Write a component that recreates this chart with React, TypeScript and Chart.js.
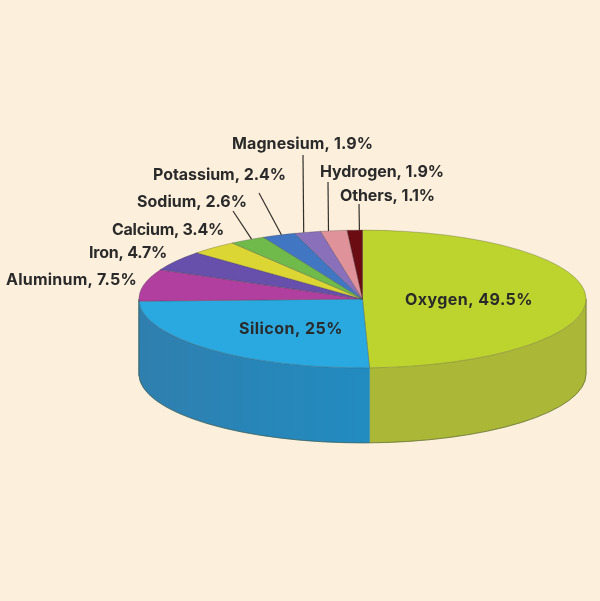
import React, { useEffect, useRef } from "react";
import { Chart, registerables } from "chart.js";

Chart.register(...registerables);

const categories = ["Oxygen", "Silicon", "Aluminum", "Iron", "Calcium", "Sodium", "Potassium", "Magnesium", "Hydrogen", "Others"];
const percentages = [49.5, 25, 7.5, 4.7, 3.4, 2.6, 2.4, 1.9, 1.9, 1.1];
const topColors = ["#bdd32e", "#2aa9e0", "#b03f9f", "#6650ab", "#dcd634", "#6fba4a", "#4176c2", "#8a70bb", "#e0929b", "#6a0c12"];
const sideColorsLeft = ["#aab737", "#2f7fae", "#2f7fae", "#2f7fae", "#2f7fae", "#2f7fae", "#2f7fae", "#2f7fae", "#2f7fae", "#2f7fae"];
const sideColorsRight = ["#aab737", "#228bc0", "#228bc0", "#228bc0", "#228bc0", "#228bc0", "#228bc0", "#228bc0", "#228bc0", "#228bc0"];

// Left edge, vertical middle and overall width of each text label
const labelX = [405, 239, 6, 89, 112, 137, 153, 232, 320, 340];
const labelY = [300, 329, 280, 253, 230, 202, 175, 144, 172, 196];
const labelWidth = [128, 104, 131, 78, 112, 110, 133, 141, 124, 95];
// Leader lines: slice index, where along the slice's rim it lands, and its free end
const leaderSlices = [5, 6, 7, 8, 9];
const leaderFractions = [0.63, 0.58, 0.35, 0.3, 0.8];
const leaderStartX = [233, 259, 303, 328, 359];
const leaderStartY = [211, 193, 155, 182, 204];

const SQUASH = 69 / 224;
const DEPTH = 75;

const pie3d = {
  id: "pie3d",
  beforeDatasetsDraw(chart: any) {
    const ctx = chart.ctx;
    const arcs = chart.getDatasetMeta(0).data;
    const first = arcs[0];
    const r = first.outerRadius;
    ctx.save();
    arcs.forEach((arc: any, i: number) => {
      const a0 = Math.max(arc.startAngle, 0);
      const a1 = Math.min(arc.endAngle, Math.PI);
      if (a1 <= a0) return;
      const rx = arc.outerRadius;
      const ry = rx * SQUASH;
      const fill = ctx.createLinearGradient(first.x - r, 0, first.x, 0);
      fill.addColorStop(0, sideColorsLeft[i]);
      fill.addColorStop(1, sideColorsRight[i]);
      ctx.beginPath();
      ctx.ellipse(arc.x, arc.y, rx, ry, 0, a0, a1);
      ctx.ellipse(arc.x, arc.y + DEPTH, rx, ry, 0, a1, a0, true);
      ctx.closePath();
      ctx.fillStyle = fill;
      ctx.fill();
      ctx.strokeStyle = fill;
      ctx.lineWidth = 0.5;
      ctx.stroke();
    });
    ctx.beginPath();
    ctx.ellipse(first.x, first.y + DEPTH, r, r * SQUASH, 0, 0, Math.PI);
    ctx.moveTo(first.x + r, first.y);
    ctx.lineTo(first.x + r, first.y + DEPTH);
    ctx.moveTo(first.x - r, first.y);
    ctx.lineTo(first.x - r, first.y + DEPTH);
    ctx.strokeStyle = "rgba(70,80,50,0.7)";
    ctx.lineWidth = 0.8;
    ctx.stroke();
    ctx.restore();

    ctx.save();
    ctx.translate(0, first.y);
    ctx.scale(1, SQUASH);
    ctx.translate(0, -first.y);
  },
  afterDatasetsDraw(chart: any) {
    const ctx = chart.ctx;
    ctx.restore();
    const arcs = chart.getDatasetMeta(0).data;

    ctx.save();
    ctx.strokeStyle = "#33302c";
    ctx.lineWidth = 1.2;
    leaderSlices.forEach((slice, i) => {
      const arc = arcs[slice];
      const a = arc.startAngle + (arc.endAngle - arc.startAngle) * leaderFractions[i];
      const r = arc.outerRadius;
      ctx.beginPath();
      ctx.moveTo(leaderStartX[i], leaderStartY[i]);
      ctx.lineTo(arc.x + r * Math.cos(a), arc.y + r * SQUASH * Math.sin(a));
      ctx.stroke();
    });

    ctx.fillStyle = "#2a2a2a";
    ctx.font = '700 16px Inter';
    ctx.textBaseline = "middle";
    ctx.textAlign = "left";
    categories.forEach((name, i) => {
      const text = `${name}, ${percentages[i]}%`;
      (ctx as any).letterSpacing = "0px";
      const natural = ctx.measureText(text).width;
      (ctx as any).letterSpacing = `${(labelWidth[i] - natural) / text.length}px`;
      ctx.fillText(text, labelX[i], labelY[i]);
    });
    ctx.restore();
  },
};

export default function App() {
  const ref = useRef<HTMLCanvasElement>(null);
  useEffect(() => {
    const chart = new Chart(ref.current!, {
      type: "pie",
      data: {
        labels: categories,
        datasets: [
          {
            data: percentages,
            backgroundColor: topColors,
            borderColor: "rgba(60,60,60,0.55)",
            borderWidth: 0.8,
          },
        ],
      },
      options: {
        responsive: false,
        animation: false,
        events: [],
        layout: { padding: { left: 138.5, right: 13.5, top: 75, bottom: 78 } },
        plugins: { legend: { display: false }, tooltip: { enabled: false } },
      },
      plugins: [pie3d],
    } as any);
    return () => chart.destroy();
  }, []);
  return (
    <div style={{ position: "fixed", left: 0, top: 0, width: 600, height: 601, background: "#fcefdc" }}>
      <canvas ref={ref} width={600} height={601} style={{ display: "block" }} />
    </div>
  );
}
